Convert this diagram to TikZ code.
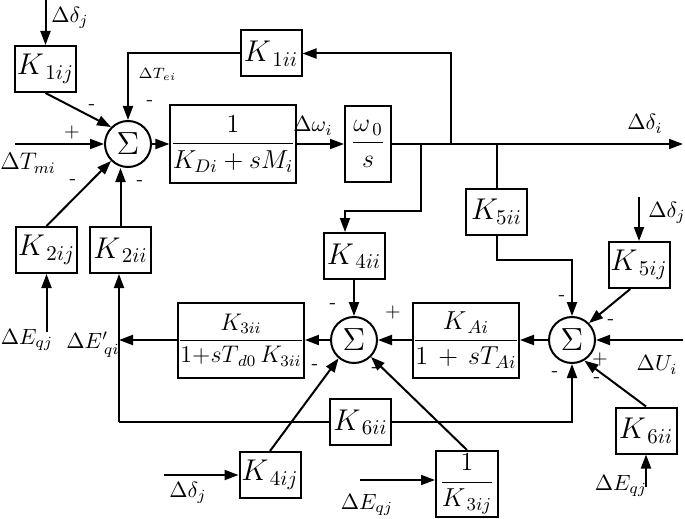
\documentclass[tikz,border=0pt]{standalone}
\usepackage{fix-cm}
\usepackage{amsmath}
\usetikzlibrary{arrows.meta}
\tikzset{
	blk/.style={draw,line width=1pt,inner sep=0pt,minimum width=30.5pt,minimum height=23pt,font=\fontsize{15}{17}\selectfont},
	frblk/.style={blk,font=\fontsize{13}{15}\selectfont},
	sumc/.style={draw,circle,line width=1pt,inner sep=0pt,minimum size=23pt,font=\fontsize{16}{18}\selectfont},
	sgn/.style={font=\fontsize{10}{11}\selectfont},
	lbl/.style={font=\fontsize{11}{13}\selectfont}
}
\begin{document}
\begin{tikzpicture}[x=0.5pt,y=-0.5pt,line width=1pt,>={Triangle[length=7pt,width=5pt]}]
	\useasboundingbox (0,0) rectangle (685,519);
	% summing points
	\node[sumc] at (128,144) (s1) {$ \Sigma $};
	\node[sumc] at (354,340) (s2) {$ \Sigma $};
	\node[sumc] at (572,340) (s3) {$ \Sigma $};
	% blocks
	\node[blk] at (45.5,69) (k1ij) {$ K_{\,1ij} $};
	\node[blk] at (271,53.5) (k1ii) {$ K_{\,1ii} $};
	\node[frblk,minimum width=53pt,minimum height=38.5pt] at (233,144) (gd) {$ \dfrac{1}{K_{Di}+sM_i} $};
	\node[frblk,minimum width=23pt,minimum height=38pt] at (368,144) (gw) {$ \dfrac{\omega_{\,0}}{s} $};
	\node[blk] at (46.5,250) (k2ij) {$ K_{\,2ij} $};
	\node[blk] at (120.5,250) (k2ii) {$ K_{\,2ii} $};
	\node[blk] at (354,256) (k4ii) {$ K_{\,4ii} $};
	\node[blk] at (496.5,211.5) (k5ii) {$ K_{5ii} $};
	\node[blk] at (639,265) (k5ij) {$ K_{\,5ij} $};
	\node[frblk,font=\fontsize{12}{14}\selectfont,minimum width=61pt,minimum height=37.5pt] at (241,340) (g3) {$ \dfrac{K_{3ii}}{1{+}sT_{\,d0}\,K_{3ii}} $};
	\node[frblk,minimum width=53pt,minimum height=37.5pt] at (466,340) (ga) {$ \dfrac{K_{\,Ai}}{1\,+\,sT_{Ai}} $};
	\node[blk] at (360.5,422) (k6ii) {$ K_{\,6ii} $};
	\node[blk] at (646,430.5) (k6iir) {$ K_{\,6ii} $};
	\node[blk] at (270,475) (k4ij) {$ K_{\,4ij} $};
	\node[frblk,minimum width=31pt,minimum height=33pt] at (467,484) (k3ij) {$ \dfrac{1}{K_{\,3ij}} $};
	% free ends and branch points
	\coordinate (dj1) at (45.5,0);
	\coordinate (tm) at (15,144);
	\coordinate (eqj1) at (46.5,332);
	\coordinate (b1) at (421,144);
	\coordinate (b2) at (451,144);
	\coordinate (b3) at (496.5,144);
	\coordinate (di) at (683,144);
	\coordinate (t4) at (345,211);
	\coordinate (dj5) at (639,197);
	\coordinate (ui) at (683,340);
	\coordinate (eqj6) at (646,487);
	\coordinate (q) at (119,340);
	\coordinate (c) at (119,422);
	\coordinate (dj4) at (164,475);
	\coordinate (eqj3) at (360,480);
	% connectors
	\draw[->] (dj1) -- (k1ij);
	\draw[->] (k1ij.south) -- (s1.135);
	\draw[->] (tm) -- (s1);
	\draw[->] (k2ij.north) -- (s1.225);
	\draw[->] (k2ii.north) -- (k2ii.north |- s1.south);
	\draw[->] (eqj1) -- (k2ij);
	\draw[->] (s1) -- (gd);
	\draw[->] (gd) -- (gw);
	\draw[->] (gw) -- (di);
	\draw[->] (b2) |- (k1ii.east);
	\draw[->] (k1ii.west) -| (s1.north);
	\draw[->] (b1) |- (t4) -- (t4 |- k4ii.north);
	\draw[->] (k4ii) -- (s2);
	\draw (b3) -- (k5ii);
	\draw[->] (k5ii.south) -- ++(0,24) -| (s3.north);
	\draw[->] (dj5) -- (k5ij);
	\draw[->] (k5ij.250) -- (s3.45);
	\draw[->] (ui) -- (s3);
	\draw[->] (k6iir.north) -- (s3.-59);
	\draw[->] (eqj6) -- (k6iir);
	\draw[->] (s3) -- (ga);
	\draw[->] (ga) -- (s2);
	\draw[->] (s2) -- (g3);
	\draw[->] (g3) -- (q);
	\draw[->] (c) -- (c |- k2ii.south);
	\draw (c) -- (k6ii);
	\draw[->] (k6ii) -| (s3.south);
	\draw[->] (k4ij.north) -- (s2.230);
	\draw[->] (k3ij.north) -- (s2.-45);
	\draw[->] (dj4) -- (k4ij);
	\draw[->] (eqj3) -- (eqj3 -| k3ij.west);
	% signals
	\node[lbl] at (70,18) {$ \Delta\delta_j $};
	\node[lbl,font=\fontsize{12}{14}\selectfont] at (28,163) {$ \Delta T_{mi} $};
	\node[font=\fontsize{7.5}{8}\selectfont,anchor=west] at (131,74) {$ \Delta T_{ei} $};
	\node[lbl] at (313,126) {$ \Delta\omega_i $};
	\node[lbl] at (645,124) {$ \Delta\delta_i $};
	\node[lbl] at (27,340) {$ \Delta E_{qj} $};
	\node[lbl] at (93,345) {$ \Delta E'_{\,qi} $};
	\node[lbl] at (667,213) {$ \Delta\delta_j $};
	\node[lbl] at (657,365) {$ \Delta U_i $};
	\node[lbl] at (188,493) {$ \Delta\delta_j $};
	\node[lbl] at (367,505) {$ \Delta E_{qj} $};
	\node[lbl] at (621,486) {$ \Delta E_{qj} $};
	% signs
	\node[sgn] at (92,107) {-};
	\node[sgn] at (150,103) {-};
	\node[sgn] at (72,133) {+};
	\node[sgn] at (73,182) {-};
	\node[sgn] at (140,183) {-};
	\node[sgn] at (333,306) {-};
	\node[sgn] at (393,312) {+};
	\node[sgn] at (315,367) {-};
	\node[sgn] at (375,370) {-};
	\node[sgn] at (562,298) {-};
	\node[sgn] at (611,322) {-};
	\node[sgn] at (600,359) {+};
	\node[sgn] at (597,380) {-};
	\node[sgn] at (555,374) {-};
\end{tikzpicture}
\end{document}
